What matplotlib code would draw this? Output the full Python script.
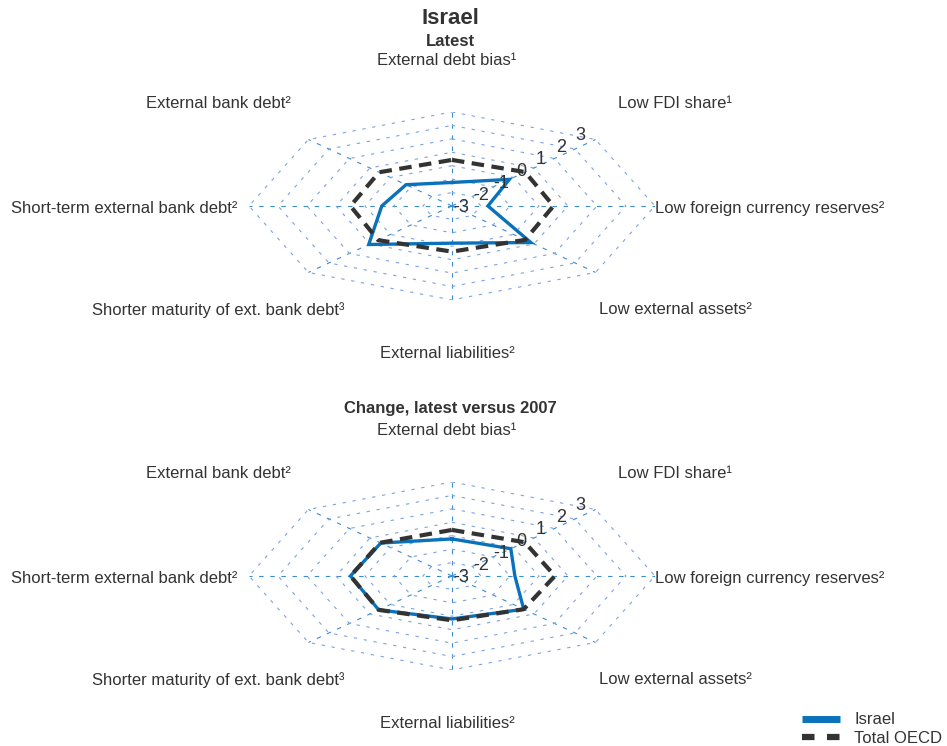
import numpy as np
import matplotlib
matplotlib.use("Agg")
import matplotlib.pyplot as plt
from matplotlib.lines import Line2D

plt.rcParams["font.family"] = ["Liberation Sans", "DejaVu Sans"]
TXT = "#333333"
BLUE = "#0a72ba"
DARK = "#333333"

axis_labels = ["External debt bias¹", "Low FDI share¹", "Low foreign currency reserves²",
               "Low external assets²", "External liabilities²",
               "Shorter maturity of ext. bank debt³", "Short-term external bank debt²",
               "External bank debt²"]
ticks = [-3, -2, -1, 0, 1, 2, 3]
vmin, vmax = -4, 3

# scores, same axis order as above (clockwise from the top)
israel_latest = [-2.25, -1.2, -2.76, -0.15, -1.23, 0.06, -1.58, -1.76]
oecd_latest = [-0.57, -0.43, -0.5, -0.43, -0.6, -0.4, -0.5, -0.45]
israel_change = [-1.24, -1.13, -1.83, -0.5, -0.8, -0.43, -0.5, -0.53]
oecd_change = [-0.57, -0.45, -0.45, -0.5, -0.7, -0.43, -0.5, -0.5]

angles = np.deg2rad(90 - 45 * np.arange(len(axis_labels)))


def to_xy(vals):
    r = (np.asarray(vals, float) - vmin) / (vmax - vmin)
    r = np.append(r, r[0])
    a = np.append(angles, angles[0])
    return r * np.cos(a), r * np.sin(a)


def radar(ax, israel, oecd):
    ax.set_xlim(-1, 1); ax.set_ylim(-1, 1)
    ax.axis("off")
    # spokes
    for a in angles:
        ax.plot([0, np.cos(a)], [0, np.sin(a)], color="#3a8dd0", lw=0.8,
                ls=(0, (4, 6)), zorder=1)
    # rings
    a = np.append(angles, angles[0])
    for t in ticks:
        r = (t - vmin) / (vmax - vmin)
        ax.plot(r * np.cos(a), r * np.sin(a), color="#7fa2df", lw=0.8,
                ls=(0, (3, 6)), zorder=1)
        ax.text(-0.05 + 0.684 * r, -0.145 + 0.894 * r, str(t), fontsize=13,
                color=TXT, ha="center", va="center", zorder=5)
    for lab, a in zip(axis_labels, angles):
        s = np.sin(a)
        dy = -0.03 if s > -0.1 else 0.015
        ax.text(1.59 * np.cos(a) - 0.025, 1.58 * s + dy, lab,
                fontsize=12, color=TXT, ha="center", va="center", clip_on=False)
    x, y = to_xy(israel)
    ax.plot(x, y, color=BLUE, lw=2.4, solid_joinstyle="miter", zorder=3)
    x, y = to_xy(oecd)
    ax.plot(x, y, color=DARK, lw=3, dashes=(3, 1.8), dash_capstyle="butt", zorder=4)


fig = plt.figure(figsize=(9.47, 7.46), dpi=100)
ax1 = fig.add_axes([0.2629, 0.5979, 0.4287, 0.2520])
ax2 = fig.add_axes([0.2629, 0.1019, 0.4287, 0.2520])
radar(ax1, israel_latest, oecd_latest)
radar(ax2, israel_change, oecd_change)

cx = 450 / 947
fig.text(cx, 1 - 19 / 746, "Israel", fontsize=16, fontweight="bold", color=TXT,
         ha="center", va="center")
fig.text(cx, 1 - 41 / 746, "Latest", fontsize=12, fontweight="bold", color=TXT,
         ha="center", va="center")
fig.text(cx, 1 - 409 / 746, "Change, latest versus 2007", fontsize=12,
         fontweight="bold", color=TXT, ha="center", va="center")

handles = [Line2D([], [], color=BLUE, lw=5, solid_capstyle="butt"),
           Line2D([], [], color=DARK, lw=4.5, dashes=(2, 2), dash_capstyle="butt")]
fig.legend(handles, ["Israel", "Total OECD"], loc="lower right",
           bbox_to_anchor=(942 / 947, 0.0), frameon=False, fontsize=12,
           handlelength=2.3, handletextpad=0.85, labelspacing=0.22,
           borderpad=0, borderaxespad=0, labelcolor=TXT)

fig.savefig("out.png", dpi=100)
